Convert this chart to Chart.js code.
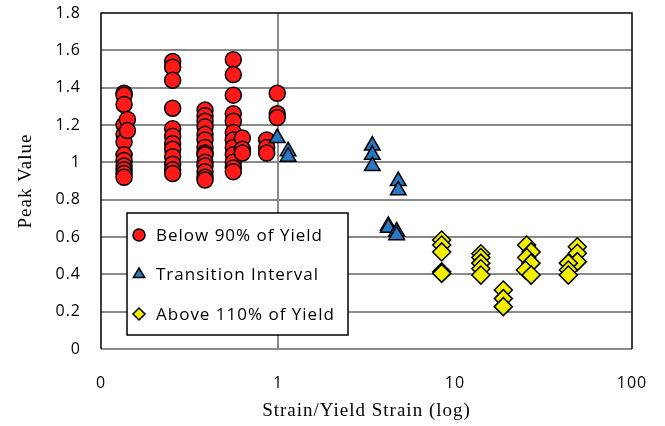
<!DOCTYPE html>
<html>
<head>
<meta charset="utf-8">
<script src="https://cdn.jsdelivr.net/npm/chart.js@4/dist/chart.umd.min.js"></script>
<style>
  html, body { margin: 0; padding: 0; background: #fff; }
  #wrap { width: 665px; height: 426px; }
</style>
</head>
<body>
<div id="wrap"><canvas id="c" width="665" height="426"></canvas></div>
<script>
// ---- data ----
const seriesNames = ["Below 90% of Yield", "Transition Interval", "Above 110% of Yield"];

const belowX = [0.135,0.135,0.135,0.135,0.135,0.135,0.135,0.135,0.135,0.135,0.135,0.135,0.141,0.141,
  0.254,0.254,0.254,0.254,0.254,0.254,0.254,0.254,0.254,0.254,0.254,0.254,
  0.387,0.387,0.387,0.387,0.387,0.387,0.387,0.387,0.387,0.387,0.387,0.387,0.387,0.387,
  0.559,0.559,0.559,0.559,0.559,0.559,0.559,0.559,0.559,0.559,0.559,0.559,
  0.629,0.629,0.629, 0.863,0.863,0.863, 0.99,0.99,0.99];
const belowY = [1.37,1.36,1.31,1.20,1.15,1.11,1.04,1.01,0.98,0.96,0.94,0.92,1.23,1.17,
  1.54,1.51,1.44,1.29,1.18,1.14,1.10,1.07,1.03,0.99,0.96,0.94,
  1.28,1.25,1.22,1.19,1.15,1.12,1.08,1.05,1.04,1.00,0.98,0.95,0.92,0.905,
  1.55,1.47,1.36,1.26,1.22,1.16,1.12,1.08,1.04,1.00,0.97,0.95,
  1.13,1.07,1.05, 1.12,1.08,1.05, 1.37,1.26,1.24];

const transX = [0.99,1.14,1.14,3.41,3.41,3.41,4.78,4.78,4.2,4.2,4.68,4.68];
const transY = [1.13,1.06,1.03,1.09,1.04,0.98,0.90,0.85,0.66,0.65,0.63,0.61];

const aboveX = [8.41,8.41,8.41,8.41,8.41, 14.0,14.0,14.0,14.0,14.0, 18.75,18.75,18.75,
  25.4,26.9,25.4,26.9,25.0,26.9, 49.1,49.1,49.1,43.7,43.7,43.7];
const aboveY = [0.584,0.557,0.52,0.414,0.405, 0.51,0.49,0.46,0.43,0.396, 0.316,0.27,0.227,
  0.557,0.52,0.49,0.46,0.423,0.396, 0.548,0.513,0.468,0.46,0.423,0.396];

const xTickValues = [0.1, 1, 10, 100];
const xTickLabels = ["0", "1", "10", "100"];
const yTickValues = [0, 0.2, 0.4, 0.6, 0.8, 1, 1.2, 1.4, 1.6, 1.8];
const yTickLabels = ["0", "0.2", "0.4", "0.6", "0.8", "1", "1.2", "1.4", "1.6", "1.8"];

const xTitle = "Strain/Yield Strain (log)";
const yTitle = "Peak Value";

// ---- build ----
const pts = (xs, ys) => xs.map((x, i) => ({ x: x, y: ys[i] }));

const TICK_FONT = { family: "'Open Sans', 'Liberation Sans', sans-serif", size: 16 };
const TITLE_FONT = { family: "'Liberation Serif', 'DejaVu Serif', serif", size: 19 };
const GRID = '#8a8a8a';
const CLEAR = 'rgba(0,0,0,0)';

function drawMarker(ctx, style, x, y, r, fill) {
  ctx.save();
  ctx.beginPath();
  if (style === 'circle') {
    ctx.arc(x, y, r, 0, Math.PI * 2);
  } else if (style === 'triangle') {
    ctx.moveTo(x, y - r);
    ctx.lineTo(x + r * 0.95, y + r * 0.6);
    ctx.lineTo(x - r * 0.95, y + r * 0.6);
    ctx.closePath();
  } else {
    ctx.moveTo(x, y - r); ctx.lineTo(x + r, y); ctx.lineTo(x, y + r); ctx.lineTo(x - r, y);
    ctx.closePath();
  }
  ctx.fillStyle = fill; ctx.fill();
  ctx.lineWidth = 1.5; ctx.strokeStyle = '#000'; ctx.stroke();
  ctx.restore();
}

const spacing = {
  id: 'spacing',
  beforeUpdate(chart) { chart.ctx.letterSpacing = '1px'; },
  beforeDraw(chart) { chart.ctx.letterSpacing = '1px'; }
};

const frameAndLegend = {
  id: 'frameAndLegend',
  beforeDatasetsDraw(chart) {
    const { ctx, chartArea: a } = chart;
    ctx.save();
    ctx.lineWidth = 2;
    ctx.strokeStyle = GRID;
    ctx.beginPath(); ctx.moveTo(a.left, a.bottom); ctx.lineTo(a.right, a.bottom); ctx.stroke();
    ctx.strokeStyle = '#000';
    ctx.lineWidth = 1.5;
    ctx.beginPath();
    ctx.moveTo(a.left, a.bottom); ctx.lineTo(a.left, a.top); ctx.lineTo(a.right, a.top); ctx.lineTo(a.right, a.bottom);
    ctx.stroke();
    ctx.restore();
  },
  afterDatasetsDraw(chart) {
    const { ctx, chartArea: a } = chart;
    const bx = a.left + 26, by = a.top + 200, bw = 221, bh = 122;
    ctx.save();
    ctx.fillStyle = '#fff';
    ctx.fillRect(bx, by, bw, bh);
    ctx.lineWidth = 1.5; ctx.strokeStyle = '#000';
    ctx.strokeRect(bx, by, bw, bh);
    ctx.font = "17px 'Open Sans', 'Liberation Sans', sans-serif";
    ctx.letterSpacing = '1px';
    ctx.fillStyle = '#000';
    ctx.textBaseline = 'middle';
    const rows = [22, 61, 101];
    chart.data.datasets.forEach((ds, i) => {
      const y = by + rows[i];
      drawMarker(ctx, ds.pointStyle, bx + 12, y, 6, ds.backgroundColor);
      ctx.fillText(ds.label, bx + 29, y + 1);
    });
    ctx.restore();
  }
};

new Chart(document.getElementById('c'), {
  type: 'scatter',
  data: {
    datasets: [
      { label: seriesNames[0], data: pts(belowX, belowY), pointStyle: 'circle', pointRadius: 8,
        backgroundColor: '#ff1a1a', borderColor: '#000', borderWidth: 1.5, order: 3 },
      { label: seriesNames[1], data: pts(transX, transY), pointStyle: 'triangle', pointRadius: 9,
        backgroundColor: '#2a78c2', borderColor: '#000', borderWidth: 1.5, order: 2 },
      { label: seriesNames[2], data: pts(aboveX, aboveY), pointStyle: 'rectRot', pointRadius: 9,
        backgroundColor: '#f2f000', borderColor: '#000', borderWidth: 1.5, order: 1 }
    ]
  },
  options: {
    responsive: false,
    animation: false,
    devicePixelRatio: 1,
    layout: { padding: { top: 13, right: 33, left: 0, bottom: 0 } },
    plugins: { legend: { display: false }, tooltip: { enabled: false } },
    scales: {
      x: {
        type: 'logarithmic', min: 0.1, max: 100,
        afterBuildTicks: (s) => { s.ticks = xTickValues.map(v => ({ value: v })); },
        afterFit: (s) => { s.height = 77; },
        ticks: {
          autoSkip: false, maxRotation: 0, padding: 0, color: '#000', font: TICK_FONT,
          callback: (v) => { const i = xTickValues.indexOf(v); return i >= 0 ? xTickLabels[i] : ''; }
        },
        grid: {
          drawTicks: true, tickLength: 25, tickColor: CLEAR, lineWidth: 2,
          color: (c) => (c.tick && c.tick.value === 1 ? GRID : CLEAR)
        },
        border: { display: false },
        title: { display: true, text: xTitle, color: '#000', font: TITLE_FONT, padding: { top: 0, bottom: 4 } }
      },
      y: {
        min: 0, max: 1.8,
        afterBuildTicks: (s) => { s.ticks = yTickValues.map(v => ({ value: v })); },
        afterFit: (s) => { s.width = 101; },
        ticks: {
          padding: 0, color: '#000', font: TICK_FONT,
          callback: (v) => { const i = yTickValues.findIndex(t => Math.abs(t - v) < 1e-9); return i >= 0 ? yTickLabels[i] : ''; }
        },
        grid: {
          drawTicks: true, tickLength: 20, tickColor: CLEAR, lineWidth: 2,
          color: (c) => (c.tick && (c.tick.value <= 0.001 || c.tick.value >= 1.799) ? CLEAR : GRID)
        },
        border: { display: false },
        title: { display: true, text: yTitle, color: '#000', font: TITLE_FONT, padding: { top: 15, bottom: 0 } }
      }
    }
  },
  plugins: [spacing, frameAndLegend]
});
</script>
</body>
</html>
